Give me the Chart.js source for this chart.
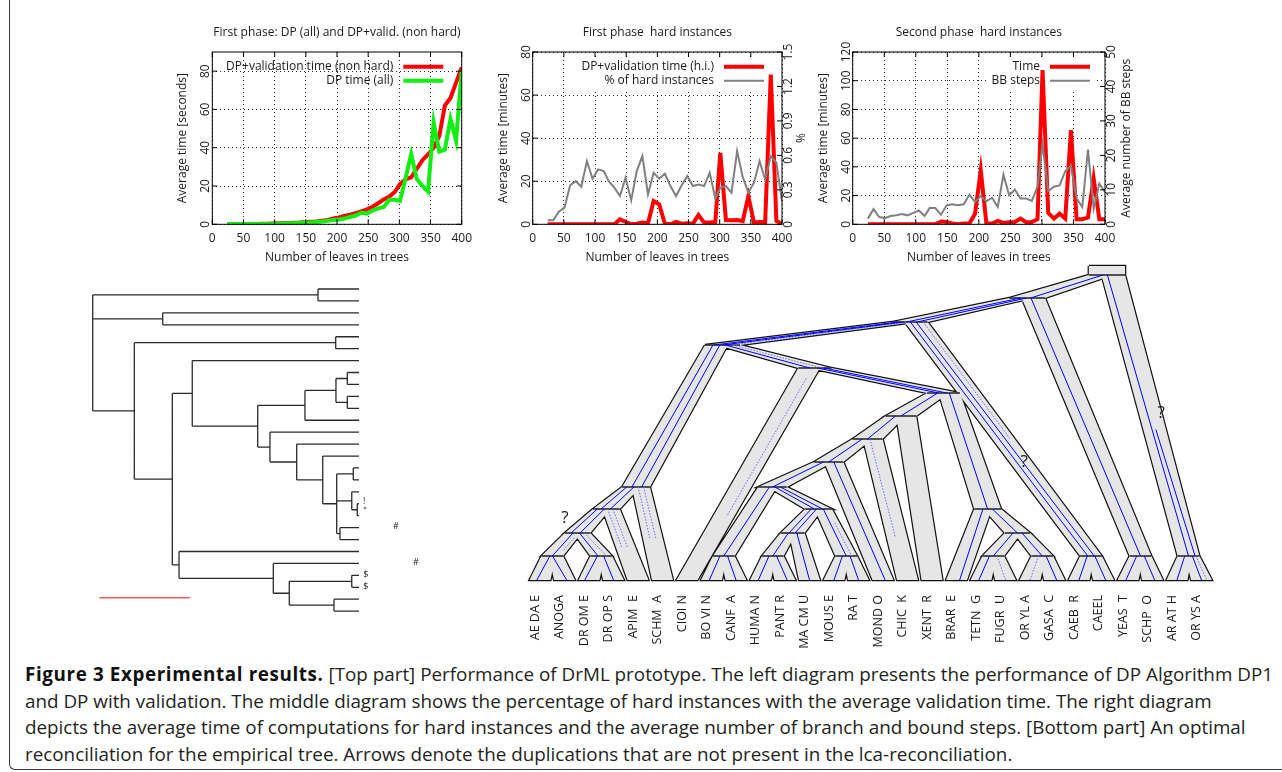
<!DOCTYPE html>
<html>
<head>
<meta charset="utf-8">
<script src="https://cdn.jsdelivr.net/npm/chart.js@4.4.1/dist/chart.umd.min.js"></script>
<style>
  html, body { margin: 0; padding: 0; background: #fff; }
  body { width: 1282px; height: 772px; position: relative; overflow: hidden; font-family: "Open Sans", sans-serif; }
  canvas { position: absolute; }
  #frame { position: absolute; left: 9px; top: -20px; width: 1300px; height: 790px; box-sizing: border-box;
           border-left: 1.5px solid #3a3a3a; border-bottom: 1.5px solid #3a3a3a; border-bottom-left-radius: 6px; }
  #caption { position: absolute; left: 25px; top: 661px; color: #231f20; line-height: 26.7px; font-size: 16px; }
  #caption div { white-space: nowrap; }
  #caption b { font-weight: 700; color: #111; }
</style>
</head>
<body>
<div id="frame"></div>
<canvas id="phase1" width="330" height="260" style="left:160px;top:15px"></canvas>
<canvas id="phase1hard" width="320" height="260" style="left:490px;top:15px"></canvas>
<canvas id="phase2hard" width="330" height="260" style="left:805px;top:15px"></canvas>
<canvas id="geneTree" width="440" height="360" style="left:0px;top:270px"></canvas>
<canvas id="reconc" width="740" height="400" style="left:500px;top:255px"></canvas>
<div id="caption">
  <div><span id="capLine1"><b id="capBold">Figure 3 Experimental results.</b> [Top part] Performance of DrML prototype. The left diagram presents the performance of DP Algorithm DP1</span></div>
  <div><span id="capLine2">and DP with validation. The middle diagram shows the percentage of hard instances with the average validation time. The right diagram</span></div>
  <div>depicts the average time of computations for hard instances and the average number of branch and bound steps. [Bottom part] An optimal</div>
  <div>reconciliation for the empirical tree. Arrows denote the duplications that are not present in the lca-reconciliation.</div>
</div>
<script>
// ---------- data: experiment curves ----------
const leaves = [24, 33, 42, 51, 60, 69, 78, 87, 96, 105, 114, 122, 131, 140, 149, 158, 167, 176, 185, 194,
  203, 212, 221, 230, 239, 248, 257, 266, 275, 284, 293, 301, 310, 319, 328, 337, 346, 355, 364, 373, 382, 391, 400];

// first phase, seconds
const dpValidTime = [0.1, 0.1, 0.1, 0.2, 0.2, 0.2, 0.3, 0.3, 0.4, 0.5, 0.6, 0.7, 0.8, 0.9, 1.1, 1.3, 1.5, 1.9, 2.3, 3.0,
  3.6, 4.4, 5.0, 5.8, 6.8, 7.8, 9.2, 11, 13, 14.5, 17, 21, 23.5, 24.5, 29, 33.5, 36.5, 40, 46, 62, 66, 74, 82];
const dpTime = [0.1, 0.1, 0.1, 0.1, 0.1, 0.2, 0.2, 0.2, 0.3, 0.3, 0.4, 0.5, 0.5, 0.8, 0.9, 1.0, 1.2, 1.5, 1.8, 2.2,
  2.5, 3.0, 3.8, 4.6, 6.0, 5.6, 7.2, 8.3, 9.0, 12.8, 12.8, 12.2, 24, 36.7, 23.6, 20, 17, 53.3, 38, 39, 55, 43.7, 80.4];

// first phase, hard instances (minutes / %)
const hardTime = [0, 0, 0, 0, 0, 0, 0, 0, 0, 0, 0, 0, 0, 2.3, 1.2, 0, 0.3, 0.8, 0.5, 10.8,
  9.3, 0.3, 0, 1.1, 0.3, 0.5, 0.3, 4.3, 0.8, 0.8, 1.1, 33.2, 2, 1.9, 2, 1.5, 13.1, 0.8, 1.1, 1.1, 69.5, 1.5, 0.3];
const hardPercent = [0.035, 0.035, 0.11, 0.145, 0.34, 0.376, 0.327, 0.55, 0.397, 0.478, 0.463, 0.376, 0.319, 0.246, 0.405, 0.208, 0.463, 0.594, 0.26, 0.449,
  0.397, 0.44, 0.333, 0.246, 0.339, 0.42, 0.333, 0.347, 0.333, 0.449, 0.223, 0.319, 0.333, 0.275, 0.637, 0.411, 0.275, 0.362, 0.55, 0.39, 0.594, 0.536, 0.2];

// second phase, hard instances (minutes / BB steps)
const bbTime = [0, 0, 0, 0, 0, 0, 0, 0, 0, 0, 0, 0, 0, 2, 1.6, 0.5, 0, 0.5, 0.5, 7.4,
  37.7, 0.5, 0.5, 2.3, 0.9, 1.4, 1.6, 4, 1.4, 1.6, 3.5, 107.4, 7.9, 4, 7.4, 4, 65.6, 3.5, 3.5, 4.7, 31.9, 3.5, 3.5];
const bbSteps = [1.65, 4.4, 2.1, 1.8, 2.4, 2.6, 3.0, 2.6, 3.3, 4.0, 2.4, 4.7, 4.7, 2.8, 5.5, 5.8, 5.5, 5.8, 8.6, 6.5,
  8.2, 6.7, 7.7, 5.0, 14.4, 8.4, 10.1, 7.5, 7.5, 6.8, 10.9, 23.2, 9.6, 10.9, 11.3, 15.4, 17.0, 7.5, 5.0, 21.7, 4.5, 11.8, 9.4];

// ---------- data: gene tree (left) ----------
// [node, parent, branch depth]
const geneNodes = [
  ['R', null, 0], ['A', 'R', 0.2485], ['B', 'R', 0.0772], ['C', 'R', 0.0459],
  ['D', 'C', 0.268], ['E', 'C', 0.0878], ['F', 'E', 0.1098], ['G', 'E', 0.0952],
  ['H', 'F', 0.182], ['I', 'H', 0.2341], ['J', 'H', 0.1955], ['K', 'I', 0.2683],
  ['L', 'K', 0.2808], ['M', 'K', 0.2808], ['N', 'J', 0.225], ['O', 'N', 0.2537],
  ['P', 'O', 0.2691], ['Q', 'P', 0.2874], ['S', 'P', 0.2857], ['U', 'S', 0.2918],
  ['T', 'P', 0.2727], ['V', 'G', 0.1992], ['W', 'V', 0.2168], ['X', 'W', 0.2857], ['Y', 'W', 0.2661]
];
const geneLeafParents = ['A', 'A', 'B', 'B', 'D', 'D', 'F', 'L', 'L', 'M', 'M', 'I', 'J', 'N', 'O', 'Q', 'Q',
  'S', 'U', 'U', 'T', 'T', 'G', 'V', 'X', 'X', 'Y', 'Y'];
const geneLeafDepth = 0.2937;
const geneMarks = [['!', 0.2995, 17.77], ['"', 0.3003, 18.67], ['#', 0.3345, 19.92], ['#', 0.3566, 22.95],
  ['$', 0.3011, 23.92], ['$', 0.3011, 24.95]];
const scaleBar = [0.0073, 0.1073, 25.88];

// ---------- data: species tree (right) ----------
// [node, parent, position in leaf slots, height]
const speciesNodes = [
  ['top', null, 23.14, 314], ['root', 'top', 23.14, 305],
  ['opis', 'root', 19.88, 282], ['plants', 'root', 26.47, 24],
  ['metaz', 'opis', 15.1, 258], ['fungi', 'opis', 24.51, 24],
  ['bilat', 'metaz', 7.45, 235], ['nem', 'metaz', 22.49, 24],
  ['schm', 'bilat', 3.92, 93], ['chord', 'bilat', 11.22, 212],
  ['ins', 'schm', 2.71, 71], ['dipt', 'ins', 1.53, 47], ['mosq', 'dipt', 0.5, 24], ['dros', 'dipt', 2.5, 24],
  ['vert', 'chord', 16.47, 187], ['tetra', 'vert', 14.73, 164], ['fish', 'vert', 18.27, 71],
  ['amn', 'tetra', 13.37, 141], ['mam', 'amn', 11.78, 118], ['euth', 'mam', 9.49, 93],
  ['bovcan', 'euth', 7.5, 24], ['euarch', 'euth', 11.37, 71], ['prim', 'euarch', 10.31, 47],
  ['hp', 'prim', 9.5, 24], ['rod', 'euarch', 12.5, 24],
  ['acan', 'fish', 19.49, 47], ['fs1', 'acan', 18.5, 24], ['fs2', 'acan', 20.5, 24]
];
const speciesLeaves = [
  ['AE DA E', 'mosq'], ['ANOGA', 'mosq'], ['DR OM E', 'dros'], ['DR OP S', 'dros'], ['APIM  E', 'ins'],
  ['SCHM  A', 'schm'], ['CIOI N', 'chord'], ['BO VI N', 'bovcan'], ['CANF  A', 'bovcan'], ['HUMA N', 'hp'],
  ['PANT R', 'hp'], ['MA CM U', 'prim'], ['MOUS E', 'rod'], ['RA T', 'rod'], ['MOND O', 'mam'],
  ['CHIC  K', 'amn'], ['XENT  R', 'tetra'], ['BRAR  E', 'fish'], ['TETN  G', 'fs1'], ['FUGR  U', 'fs1'],
  ['OR YL A', 'fs2'], ['GASA  C', 'fs2'], ['CAEB  R', 'nem'], ['CAEEL', 'nem'], ['YEAS  T', 'fungi'],
  ['SCHP  O', 'fungi'], ['AR AT H', 'plants'], ['OR YS A', 'plants']
];
// gene copies inside species branches: [branch, offset at top, offset at bottom, solid/dotted, from, to]
const geneCopies = [
  ['opis', 0.2, 0.2, 's'], ['plants', -0.5, 0.0, 's'], ['plants', -0.5, 0.6, 's', 0.55, 1],
  ['fungi', -0.2, 0.0, 's'], ['metaz', 0.0, -0.2, 's'], ['metaz', 0.5, 0.4, 's'],
  ['nem', -0.5, -0.3, 's'], ['nem', 0.0, 0.3, 's'], ['nem', 0.6, 0.6, 'd', 0, 0.5],
  ['bilat', -0.5, -0.5, 's'], ['bilat', 0.0, 0.0, 's'], ['bilat', 0.5, 0.5, 'd'],
  ['schm', -0.3, -0.3, 's'], ['schm', 0.3, 0.4, 's'],
  ['SCHM  A', -0.3, -0.3, 'd', 0, 0.55], ['SCHM  A', 0.3, 0.3, 'd', 0, 0.55],
  ['ins', -0.5, -0.4, 's'], ['ins', 0.3, 0.3, 's'],
  ['APIM  E', -0.4, -0.4, 'd', 0, 0.55], ['APIM  E', 0.2, 0.2, 'd', 0, 0.55],
  ['dipt', -0.5, -0.5, 's'], ['dipt', 0.3, 0.2, 's'], ['mosq', 0.0, 0.0, 's'], ['mosq', 0.6, 0.6, 'd', 0.2, 0.8],
  ['dros', -0.3, -0.3, 's'], ['dros', 0.3, 0.5, 'd'],
  ['AE DA E', 0.2, -0.3, 's'], ['ANOGA', -0.5, 0.2, 's'], ['DR OM E', 0.0, -0.4, 's'], ['DR OP S', -0.2, 0.0, 's'],
  ['chord', -0.3, -0.3, 's'], ['chord', 0.4, 0.4, 'd'], ['CIOI N', 0.3, 0.3, 'd', 0.05, 0.7],
  ['vert', -0.3, -0.3, 's'], ['vert', 0.3, 0.2, 's'], ['tetra', 0.0, 0.0, 's'], ['amn', 0.0, 0.0, 's'],
  ['CHIC  K', -0.3, -0.1, 'd', 0, 0.7], ['mam', 0.0, 0.0, 's'], ['MOND O', 0.0, 0.2, 's'],
  ['euth', 0.0, 0.0, 's'], ['bovcan', 0.2, 0.0, 's'], ['BO VI N', 0.0, -0.2, 's'], ['CANF  A', 0.0, 0.0, 's'],
  ['euarch', -0.3, -0.3, 's'], ['euarch', 0.3, 0.3, 's'], ['prim', -0.3, -0.3, 's'], ['prim', 0.3, 0.2, 's'],
  ['hp', 0.0, 0.0, 's'], ['HUMA N', 0.0, -0.2, 's'], ['PANT R', 0.0, 0.2, 's'], ['MA CM U', 0.0, 0.0, 's'],
  ['rod', 0.0, 0.0, 's'], ['rod', 0.5, 0.5, 'd', 0.3, 1], ['MOUS E', 0.0, 0.0, 's'], ['RA T', 0.0, 0.0, 's'],
  ['fish', 0.0, 0.0, 's'], ['BRAR  E', 0.0, 0.3, 's'], ['acan', 0.0, 0.0, 's'], ['fs1', 0.0, 0.0, 's'],
  ['fs2', 0.0, 0.0, 's'], ['TETN  G', 0.0, -0.2, 's'], ['FUGR  U', 0.0, 0.0, 'd'], ['OR YL A', 0.0, 0.0, 'd'],
  ['GASA  C', 0.0, 0.2, 's'], ['CAEB  R', 0.0, 0.0, 's'], ['CAEEL', 0.0, 0.2, 's'], ['YEAS  T', 0.0, -0.2, 's'],
  ['SCHP  O', 0.0, 0.2, 's'], ['AR AT H', 0.0, 0.0, 's'], ['OR YS A', 0.0, 0.0, 's'], ['OR YS A', 0.5, 0.5, 'd']
];
const duplicationMarks = [[1.02, 62], [19.76, 118], [25.35, 167]];

// ---------- gnuplot-like frame, ticks, labels and key ----------
const FONT = '12px "Open Sans"';

function rotatedText(ctx, text, x, y) {
  ctx.save();
  ctx.translate(x, y);
  ctx.rotate(-Math.PI / 2);
  ctx.textAlign = 'center';
  ctx.textBaseline = 'middle';
  ctx.fillText(text, 0, 0);
  ctx.restore();
}

function fmt(v) { return String(Math.round(v * 10) / 10); }

function keyLayout(chart, o) {
  const {ctx, chartArea: a} = chart;
  ctx.save();
  ctx.font = FONT;
  const widths = chart.data.datasets.map(d => ctx.measureText(d.label).width);
  ctx.restore();
  const textRight = a.right - o.keyRight;
  return {
    textRight,
    left: textRight - Math.max(...widths) - 5,
    right: textRight + 54,
    top: a.top + 5,
    bottom: a.top + 37
  };
}

const gnuplotAxes = {
  id: 'gnuplotAxes',
  beforeDatasetsDraw(chart, args, o) {
    if (!o.opaqueKey) return;
    const k = keyLayout(chart, o);
    chart.ctx.save();
    chart.ctx.fillStyle = '#fff';
    chart.ctx.fillRect(k.left, k.top, k.right - k.left, k.bottom - k.top);
    chart.ctx.restore();
  },
  afterDatasetsDraw(chart, args, o) {
    const {ctx, chartArea: a, scales} = chart;
    const sx = scales.x, sy = scales.y, sy2 = scales.y1;
    ctx.save();
    ctx.strokeStyle = '#000';
    ctx.lineWidth = 1;
    ctx.fillStyle = '#1a1a1a';
    ctx.font = FONT;
    ctx.textAlign = 'center';
    ctx.textBaseline = 'middle';
    ctx.strokeRect(a.left, a.top, a.width, a.height);

    ctx.beginPath();
    sx.ticks.forEach(t => {
      const px = sx.getPixelForValue(t.value);
      ctx.moveTo(px, a.bottom); ctx.lineTo(px, a.bottom - 5);
      ctx.moveTo(px, a.top); ctx.lineTo(px, a.top + 5);
      ctx.fillText(fmt(t.value), px, a.bottom + 14);
    });
    sy.ticks.forEach(t => {
      const py = sy.getPixelForValue(t.value);
      ctx.moveTo(a.left, py); ctx.lineTo(a.left + 5, py);
      if (!sy2) { ctx.moveTo(a.right, py); ctx.lineTo(a.right - 5, py); }
      rotatedText(ctx, fmt(t.value), a.left - 6.5, py);
    });
    if (sy2) {
      sy2.ticks.forEach(t => {
        const py = sy2.getPixelForValue(t.value);
        ctx.moveTo(a.right, py); ctx.lineTo(a.right - 5, py);
        rotatedText(ctx, fmt(t.value), a.right + 7, py);
      });
    }
    ctx.stroke();

    const cx = (a.left + a.right) / 2;
    const cy = (a.top + a.bottom) / 2;
    ctx.fillText(o.title, cx, a.top - 19);
    ctx.fillText(o.xTitle, cx, a.bottom + 33);
    rotatedText(ctx, o.yTitle, a.left - 29.4, cy);
    if (o.y2Title) rotatedText(ctx, o.y2Title, a.right + o.y2TitleOffset, cy);

    // key: right aligned text, sample line on the right
    const k = keyLayout(chart, o);
    ctx.textAlign = 'right';
    chart.data.datasets.forEach((d, i) => {
      const y = a.top + 14.7 + 14 * i;
      ctx.fillText(d.label, k.textRight, y);
      ctx.save();
      ctx.strokeStyle = d.borderColor;
      ctx.lineWidth = d.borderWidth;
      ctx.beginPath();
      ctx.moveTo(k.textRight + 10, y);
      ctx.lineTo(k.textRight + 50, y);
      ctx.stroke();
      ctx.restore();
    });
    ctx.restore();
  }
};

function series(values) {
  return leaves.map((x, i) => ({x: x, y: values[i]}));
}

const gridStyle = {color: 'rgba(0,0,0,0.85)', lineWidth: 1, drawTicks: false};
const dotted = {display: false, dash: [1, 3]};

function xAxis() {
  return {type: 'linear', min: 0, max: 400, ticks: {stepSize: 50, display: false}, grid: gridStyle, border: dotted};
}
function yAxis(max, step) {
  return {type: 'linear', min: 0, max: max, ticks: {stepSize: step, display: false, includeBounds: false}, grid: gridStyle, border: dotted};
}
function y2Axis(max, step) {
  return {type: 'linear', position: 'right', min: 0, max: max, ticks: {stepSize: step, display: false},
    grid: {display: false, drawTicks: false}, border: {display: false}};
}

function baseOptions(padding, scales, axes) {
  return {
    responsive: false,
    animation: false,
    events: [],
    layout: {padding: padding},
    elements: {point: {radius: 0}, line: {tension: 0, borderJoinStyle: 'miter'}},
    plugins: {legend: {display: false}, tooltip: {enabled: false}, title: {display: false}, gnuplotAxes: axes},
    scales: scales
  };
}

// canvases start at y=15, so the plot areas run from y=52 to y=224.3 on the page
new Chart(document.getElementById('phase1').getContext('2d'), {
  type: 'line',
  data: {
    datasets: [
      {label: 'DP+validation time (non hard)', data: series(dpValidTime), borderColor: '#ff0000', borderWidth: 4, order: 1},
      {label: 'DP time (all)', data: series(dpTime), borderColor: '#11ee11', borderWidth: 4, order: 0}
    ]
  },
  options: baseOptions({left: 52.3, top: 37, right: 28.3, bottom: 50.7},
    {x: xAxis(), y: yAxis(90, 20)},
    {title: 'First phase: DP (all) and DP+valid. (non hard)', xTitle: 'Number of leaves in trees',
     yTitle: 'Average time [seconds]', keyRight: 68.4, opaqueKey: false}),
  plugins: [gnuplotAxes]
});

new Chart(document.getElementById('phase1hard').getContext('2d'), {
  type: 'line',
  data: {
    datasets: [
      {label: 'DP+validation time (h.i.)', data: series(hardTime), yAxisID: 'y', borderColor: '#ff0000', borderWidth: 4, order: 1},
      {label: '% of hard instances', data: series(hardPercent), yAxisID: 'y1', borderColor: '#808080', borderWidth: 2, order: 0}
    ]
  },
  options: baseOptions({left: 42.7, top: 37, right: 28, bottom: 50.7},
    {x: xAxis(), y: yAxis(80, 20), y1: y2Axis(1.5, 0.3)},
    {title: 'First phase  hard instances', xTitle: 'Number of leaves in trees', yTitle: 'Average time [minutes]',
     y2Title: '%', y2TitleOffset: 20, keyRight: 68, opaqueKey: true}),
  plugins: [gnuplotAxes]
});

new Chart(document.getElementById('phase2hard').getContext('2d'), {
  type: 'line',
  data: {
    datasets: [
      {label: 'Time', data: series(bbTime), yAxisID: 'y', borderColor: '#ff0000', borderWidth: 4, order: 1},
      {label: 'BB steps', data: series(bbSteps), yAxisID: 'y1', borderColor: '#808080', borderWidth: 2, order: 0}
    ]
  },
  options: baseOptions({left: 47.7, top: 37, right: 30, bottom: 50.7},
    {x: xAxis(), y: yAxis(120, 20), y1: y2Axis(50, 10)},
    {title: 'Second phase  hard instances', xTitle: 'Number of leaves in trees', yTitle: 'Average time [minutes]',
     y2Title: 'Average number of BB steps', y2TitleOffset: 21.7, keyRight: 65, opaqueKey: true}),
  plugins: [gnuplotAxes]
});

// ---------- left: gene tree as rectangular cladogram ----------
const gNodes = {};
geneNodes.forEach(([name, parent, depth]) => { gNodes[name] = {name, parent, depth, children: []}; });
geneLeafParents.forEach((parent, i) => {
  gNodes['leaf' + i] = {name: 'leaf' + i, parent, depth: geneLeafDepth, children: [], y: i};
});
Object.values(gNodes).forEach(n => { if (n.parent) gNodes[n.parent].children.push(n); });

function placeGene(n) {
  if (n.y !== undefined) return n.y;
  const ys = n.children.map(placeGene);
  n.y = (Math.min(...ys) + Math.max(...ys)) / 2;
  return n.y;
}
placeGene(gNodes.R);

const geneLines = [];
Object.values(gNodes).forEach(n => {
  if (n.children.length) {
    const ys = n.children.map(c => c.y);
    geneLines.push({x: n.depth, y: Math.min(...ys)}, {x: n.depth, y: Math.max(...ys)}, {x: n.depth, y: null});
  }
  if (n.parent) {
    const p = gNodes[n.parent];
    geneLines.push({x: p.depth, y: n.y}, {x: n.depth, y: n.y}, {x: n.depth, y: null});
  }
});

const geneLabels = {
  id: 'geneLabels',
  afterDatasetsDraw(chart) {
    const {ctx, scales: {x, y}} = chart;
    ctx.save();
    ctx.fillStyle = '#222';
    ctx.font = '9px "Open Sans"';
    ctx.textAlign = 'center';
    ctx.textBaseline = 'middle';
    geneMarks.forEach(([s, d, i]) => ctx.fillText(s, x.getPixelForValue(d), y.getPixelForValue(i)));
    ctx.restore();
  }
};

new Chart(document.getElementById('geneTree').getContext('2d'), {
  type: 'line',
  data: {
    datasets: [
      {data: geneLines, borderColor: '#2b2b2b', borderWidth: 1.3, spanGaps: false},
      {data: [{x: scaleBar[0], y: scaleBar[2]}, {x: scaleBar[1], y: scaleBar[2]}], borderColor: '#ff5a5a', borderWidth: 1.5}
    ]
  },
  options: {
    responsive: false, animation: false, events: [],
    layout: {padding: 0},
    elements: {point: {radius: 0}, line: {tension: 0}},
    plugins: {legend: {display: false}, tooltip: {enabled: false}},
    scales: {
      x: {type: 'linear', display: false, min: -0.10224, max: 0.38304},
      y: {type: 'linear', display: false, reverse: true, min: -1.593, max: 28.58}
    }
  },
  plugins: [geneLabels]
});

// ---------- right: reconciliation inside the species tree ----------
const SLOT_PX = 24.5;           // pixels per leaf slot on the reconc canvas
const sNodes = {};
speciesNodes.forEach(([name, parent, u, h]) => { sNodes[name] = {name, parent, u, h, children: [], leaf: false}; });
speciesLeaves.forEach(([name, parent], i) => { sNodes[name] = {name, parent, u: i, h: 0, children: [], leaf: true}; });
Object.values(sNodes).forEach(n => { if (n.parent) sNodes[n.parent].children.push(n); });

function leafCount(n) {
  if (n.leaf) return 1;
  n.count = n.children.reduce((s, c) => s + leafCount(c), 0);
  return n.count;
}
leafCount(sNodes.top);

function tubeWidth(n) {
  return (n.leaf ? 21 : 18 + 3.8 * Math.log2(n.count)) / SLOT_PX;
}

function branch(c) {
  const p = sNodes[c.parent];
  const pw = tubeWidth(p), cw = tubeWidth(c);
  let tl, tr;
  if (!p.parent) { tl = p.u - pw / 2; tr = p.u + pw / 2; }
  else if (c.u < p.u) { tl = p.u - pw / 2; tr = tl + 0.65 * pw; }
  else { tr = p.u + pw / 2; tl = tr - 0.65 * pw; }
  return {p, c, tl, tr, bl: c.u - cw / 2, br: c.u + cw / 2};
}

const branches = Object.values(sNodes).filter(n => n.parent).map(branch);

const outlinePts = [];
const fillSets = [];
branches.forEach(b => {
  const poly = [{x: b.tl, y: b.p.h}, {x: b.tr, y: b.p.h}, {x: b.br, y: b.c.h}, {x: b.bl, y: b.c.h}, {x: b.tl, y: b.p.h}];
  outlinePts.push(...poly, {x: b.tl, y: null});
  fillSets.push({data: poly, borderColor: 'rgba(0,0,0,0)', borderWidth: 1, backgroundColor: '#e6e6e6', fill: 'shape', order: 3});
});

const barPts = [];
Object.values(sNodes).forEach(n => {
  if (n.leaf || !n.parent) return;
  const w = tubeWidth(n);
  barPts.push({x: n.u - w / 2, y: n.h}, {x: n.u + w / 2, y: n.h}, {x: n.u, y: null});
});

const solidPts = [];
const dottedPts = [];
geneCopies.forEach(([name, f0, f1, kind, t0 = 0, t1 = 1]) => {
  const b = branches.find(br => br.c.name === name);
  const at = t => {
    const f = f0 + (f1 - f0) * t;
    const center = (b.tl + b.tr) / 2 + ((b.bl + b.br) / 2 - (b.tl + b.tr) / 2) * t;
    const half = (b.tr - b.tl) / 2 + ((b.br - b.bl) / 2 - (b.tr - b.tl) / 2) * t;
    return {x: center + f * half, y: b.p.h + (b.c.h - b.p.h) * t};
  };
  const target = kind === 's' ? solidPts : dottedPts;
  target.push(at(t0), at(t1), {x: 0, y: null});
});

const reconcLabels = {
  id: 'reconcLabels',
  afterDatasetsDraw(chart) {
    const {ctx, scales: {x, y}} = chart;
    ctx.save();
    ctx.fillStyle = '#1a1a1a';
    ctx.font = '12.5px "Open Sans"';
    speciesLeaves.forEach(([name], i) => {
      ctx.save();
      ctx.translate(x.getPixelForValue(i) - 5, y.getPixelForValue(-15));
      ctx.rotate(-Math.PI / 2);
      ctx.textAlign = 'right';
      ctx.textBaseline = 'middle';
      ctx.fillText(name, 0, 0);
      ctx.restore();
    });
    ctx.font = '17px "Open Sans"';
    ctx.textAlign = 'center';
    ctx.textBaseline = 'middle';
    duplicationMarks.forEach(([u, h]) => ctx.fillText('?', x.getPixelForValue(u), y.getPixelForValue(h)));
    ctx.restore();
  }
};

new Chart(document.getElementById('reconc').getContext('2d'), {
  type: 'line',
  data: {
    datasets: [
      {data: outlinePts, borderColor: '#111', borderWidth: 2.4, order: 4},
      ...fillSets,
      {data: barPts, borderColor: '#222', borderWidth: 1.6, order: 2},
      {data: solidPts, borderColor: '#0000ff', borderWidth: 1, order: 1},
      {data: dottedPts, borderColor: '#6b6bff', borderWidth: 1, borderDash: [1.5, 1.5], order: 1}
    ]
  },
  options: {
    responsive: false, animation: false, events: [],
    layout: {padding: 0},
    elements: {point: {radius: 0}, line: {tension: 0, borderJoinStyle: 'miter'}},
    datasets: {line: {clip: false, spanGaps: false}},
    plugins: {legend: {display: false}, tooltip: {enabled: false}},
    scales: {
      x: {type: 'linear', display: false, min: -1.6327, max: 28.571},
      y: {type: 'linear', display: false, min: -75, max: 325}
    }
  },
  plugins: [reconcLabels]
});

// ---------- caption width fitting ----------
const caption = document.getElementById('caption');
const capLine1 = document.getElementById('capLine1');
const capLine2 = document.getElementById('capLine2');
const capBold = document.getElementById('capBold');
caption.style.fontSize = (16 * 1187 / capLine2.getBoundingClientRect().width) + 'px';
const extra = 1248 - capLine1.getBoundingClientRect().width;
capBold.style.letterSpacing = (extra / capBold.textContent.length) + 'px';
</script>
</body>
</html>
